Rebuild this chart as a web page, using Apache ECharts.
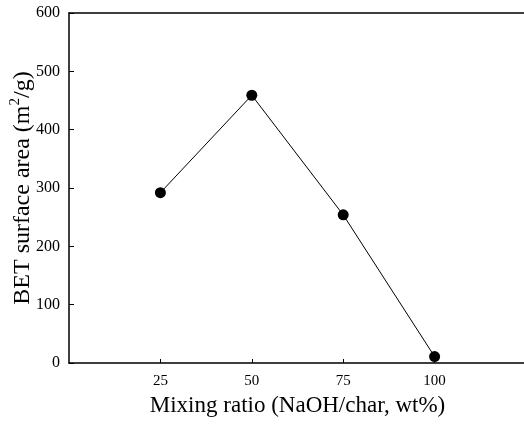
<!DOCTYPE html>
<html>
<head>
<meta charset="utf-8">
<script src="https://cdn.jsdelivr.net/npm/echarts@6/dist/echarts.min.js"></script>
<style>
  html, body { margin: 0; padding: 0; background: #fff; }
  #chart { width: 524px; height: 429px; }
</style>
</head>
<body>
<div id="chart"></div>
<script>
// data
var ratios = [25, 50, 75, 100];
var bet = [292, 459, 254, 11];
var xTicks = [25, 50, 75, 100];

var font = '"Liberation Serif", "Times New Roman", serif';
var chart = echarts.init(document.getElementById('chart'));

var points = ratios.map(function(r, i) { return [r, bet[i]]; });

chart.setOption({
  animation: false,
  grid: { left: 69, right: -2, top: 13, bottom: 66, outerBoundsMode: 'none', containLabel: false },
  xAxis: [{
    type: 'value',
    min: 0,
    max: 125,
    interval: 25,
    name: 'Mixing ratio (NaOH/char, wt%)',
    nameLocation: 'middle',
    nameGap: 31,
    nameMoveOverlap: false,
    nameTextStyle: { fontFamily: font, fontSize: 23, color: '#000' },
    axisLine: { lineStyle: { color: '#000', width: 1.5 } },
    axisTick: { inside: true, length: 4, customValues: xTicks, lineStyle: { color: '#000' } },
    axisLabel: {
      fontFamily: font, fontSize: 15, color: '#000', margin: 11,
      customValues: xTicks
    },
    splitLine: { show: false }
  }, {
    type: 'value',
    position: 'top',
    min: 0,
    max: 125,
    axisLine: { show: true, lineStyle: { color: '#000', width: 1.5 } },
    axisTick: { show: false },
    axisLabel: { show: false },
    splitLine: { show: false }
  }],
  yAxis: {
    type: 'value',
    min: 0,
    max: 600,
    interval: 100,
    name: '{t|BET surface area (m}{sup|2}{t|/g)}',
    nameLocation: 'middle',
    nameGap: 31,
    nameMoveOverlap: false,
    nameTextStyle: {
      fontFamily: font, fontSize: 24, color: '#000',
      rich: {
        t: { fontFamily: font, fontSize: 24, color: '#000', lineHeight: 30 },
        sup: { fontFamily: font, fontSize: 15, color: '#000', verticalAlign: 'top', lineHeight: 22 }
      }
    },
    axisLine: { show: true, lineStyle: { color: '#000', width: 1.5 } },
    axisTick: { inside: true, length: 5, lineStyle: { color: '#000' } },
    axisLabel: { fontFamily: font, fontSize: 16, color: '#000', margin: 9 },
    splitLine: { show: false }
  },
  series: [{
    type: 'line',
    data: points,
    symbol: 'circle',
    symbolSize: 11,
    itemStyle: { color: '#000' },
    lineStyle: { color: '#000', width: 1 }
  }]
});
</script>
</body>
</html>
